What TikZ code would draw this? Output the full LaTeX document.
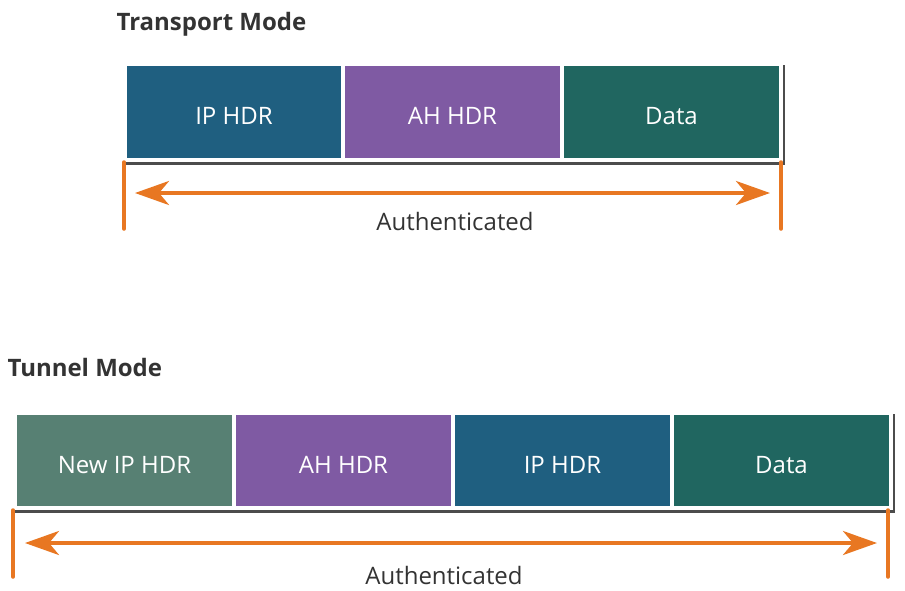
\documentclass[tikz,border=0pt]{standalone}
\usepackage{fontspec}
\setmainfont{Open Sans}
\usetikzlibrary{shadows,arrows.meta}
\definecolor{ipc}{HTML}{1F5F80}
\definecolor{ahc}{HTML}{7F5AA3}
\definecolor{datac}{HTML}{206660}
\definecolor{newipc}{HTML}{578073}
\definecolor{orng}{HTML}{E87722}
\definecolor{txt}{HTML}{333333}
\tikzset{
  frame/.style={fill=white, draw=none, drop shadow={shadow xshift=1.5pt, shadow yshift=-3pt, fill=black, opacity=0.7}},
  cell/.style={draw=none, text=white, font=\fontsize{24}{28}\selectfont, text height=25pt, text depth=0pt},
  oline/.style={draw=orng, line width=3.5pt},
  oarrow/.style={draw=orng, line width=4pt, {Stealth[length=34pt,width=24pt,inset=10pt]}-{Stealth[length=34pt,width=24pt,inset=10pt]}},
  title/.style={font=\bfseries\fontsize{24}{28}\selectfont, text=txt, anchor=west},
  lab/.style={font=\fontsize{24}{28}\selectfont, text=txt}
}
\begin{document}
\begin{tikzpicture}[x=1pt,y=-1pt]
\useasboundingbox (0,0) rectangle (905,590);
% Transport
\node[title] (t1) at (113,24) {Transport Mode};
\path[frame] (123,62) rectangle (783,162);
\node[cell, fill=ipc, minimum width=214pt, minimum height=92pt] (a1) at (234,112) {IP HDR};
\node[cell, fill=ahc, minimum width=215pt, minimum height=92pt] (a2) at (452.5,112) {AH HDR};
\node[cell, fill=datac, minimum width=215pt, minimum height=92pt] (a3) at (671.5,112) {Data};
\coordinate (l1t) at (124,162);
\coordinate (l1b) at (124,229);
\coordinate (r1t) at (781,162);
\coordinate (r1b) at (781,229);
\draw[oline, line cap=round] (l1t) -- (l1b);
\draw[oline, line cap=round] (r1t) -- (r1b);
\coordinate (aL1) at (135,193);
\coordinate (aR1) at (770,193);
\draw[oarrow] (aL1) -- (aR1);
\node[lab] (au1) at (455,221) {Authenticated};
% Tunnel
\node[title] (t2) at (4,367) {Tunnel Mode};
\path[frame] (13,411) rectangle (893,510);
\node[cell, fill=newipc, minimum width=215pt, minimum height=91pt] (b1) at (124.5,460.5) {New IP HDR};
\node[cell, fill=ahc, minimum width=215pt, minimum height=91pt] (b2) at (343.5,460.5) {AH HDR};
\node[cell, fill=ipc, minimum width=215pt, minimum height=91pt] (b3) at (562.5,460.5) {IP HDR};
\node[cell, fill=datac, minimum width=215pt, minimum height=91pt] (b4) at (781.5,460.5) {Data};
\coordinate (l2t) at (13,510);
\coordinate (l2b) at (13,577);
\coordinate (r2t) at (888,510);
\coordinate (r2b) at (888,577);
\draw[oline, line cap=round] (l2t) -- (l2b);
\draw[oline, line cap=round] (r2t) -- (r2b);
\coordinate (aL2) at (25,543);
\coordinate (aR2) at (877,543);
\draw[oarrow] (aL2) -- (aR2);
\node[lab] (au2) at (444,575) {Authenticated};
\end{tikzpicture}
\end{document}
